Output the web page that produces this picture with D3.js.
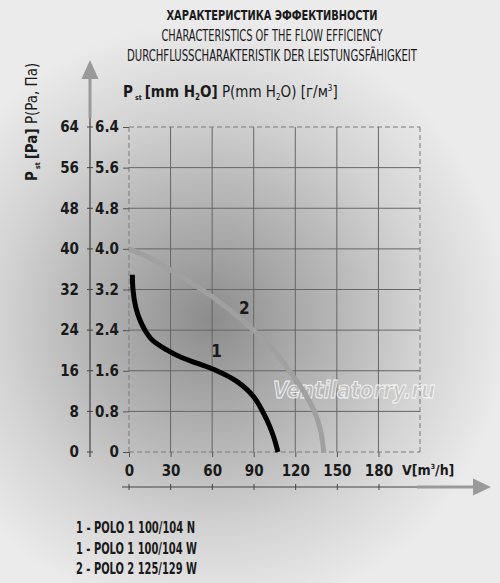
<!DOCTYPE html>
<html>
<head>
<meta charset="utf-8">
<script src="https://cdn.jsdelivr.net/npm/d3@7"></script>
<style>
  html, body { margin: 0; padding: 0; background: #ececec; }
  svg { display: block; }
  text { font-family: "DejaVu Sans Condensed", "DejaVu Sans", sans-serif; font-stretch: condensed; fill: #1a1a1a; }
</style>
</head>
<body>
<div id="root"></div>
<script>
// values: V in m3/h, P in mm H2O
const xTicks = [0, 30, 60, 90, 120, 150, 180];
const yTicks = [0, 0.8, 1.6, 2.4, 3.2, 4.0, 4.8, 5.6, 6.4];
const yTickLabels = ['0', '0.8', '1.6', '2.4', '3.2', '4.0', '4.8', '5.6', '6.4'];
const paTickLabels = ['0', '8', '16', '24', '32', '40', '48', '56', '64'];

// curve 1 - POLO 1
const flow1 = [2.4, 2.9, 4.8, 7.9, 11.5, 16.6, 27.2, 38, 48.9, 63.3, 77.8, 89.9, 99.5, 104, 107.5];
const press1 = [3.49, 3.19, 2.86, 2.6, 2.4, 2.21, 2.01, 1.86, 1.75, 1.6, 1.39, 1.09, 0.63, 0.33, 0];

// curve 2 - POLO 2
const flow2 = [0, 15, 29.6, 45, 56.2, 75, 89.9, 105, 118.8, 127, 133.2, 138, 140.6];
const press2 = [4.0, 3.82, 3.59, 3.33, 3.13, 2.75, 2.4, 1.98, 1.48, 1.15, 0.83, 0.45, 0];

const legendLines = ['1 - POLO 1 100/104 N', '1 - POLO 1 100/104 W', '2 - POLO 2 125/129 W'];

const width = 500;
const height = 583;

const svg = d3.select('#root')
  .append('svg')
  .attr('width', width)
  .attr('height', height);

// background: grey radial glow
const grad = svg.append('defs')
  .append('radialGradient')
  .attr('id', 'bg')
  .attr('gradientUnits', 'userSpaceOnUse')
  .attr('cx', 210)
  .attr('cy', 320)
  .attr('r', 300);
grad.append('stop').attr('offset', '0').attr('stop-color', '#8c8c8c');
grad.append('stop').attr('offset', '0.25').attr('stop-color', '#a6a6a6');
grad.append('stop').attr('offset', '0.45').attr('stop-color', '#b9b9b9');
grad.append('stop').attr('offset', '0.7').attr('stop-color', '#d3d3d3');
grad.append('stop').attr('offset', '1').attr('stop-color', '#ebebeb');

svg.append('rect')
  .attr('width', width)
  .attr('height', height)
  .attr('fill', 'url(#bg)');

const xScale = d3.scaleLinear().domain([0, 210]).range([129, 420]);
const yScale = d3.scaleLinear().domain([0, 6.4]).range([452, 127]);

// titles
const titles = [
  { t: 'ХАРАКТЕРИСТИКА ЭФФЕКТИВНОСТИ', y: 20, w: 211, bold: true, size: 14 },
  { t: 'CHARACTERISTICS OF THE FLOW EFFICIENCY', y: 41, w: 221, bold: false, size: 15 },
  { t: 'DURCHFLUSSCHARAKTERISTIK DER LEISTUNGSFÄHIGKEIT', y: 61, w: 290, bold: false, size: 15 },
];
svg.selectAll('text.title')
  .data(titles)
  .enter()
  .append('text')
  .attr('class', 'title')
  .attr('x', 272)
  .attr('y', d => d.y)
  .attr('text-anchor', 'middle')
  .attr('font-size', d => d.size)
  .attr('font-weight', d => (d.bold ? 'bold' : 'normal'))
  .attr('textLength', d => d.w)
  .attr('lengthAdjust', 'spacingAndGlyphs')
  .text(d => d.t);

// grid
const grid = svg.append('g');
grid.selectAll('line.v')
  .data(xTicks.concat([210]))
  .enter()
  .append('line')
  .attr('x1', d => xScale(d))
  .attr('x2', d => xScale(d))
  .attr('y1', yScale(6.4))
  .attr('y2', yScale(0))
  .attr('stroke', d => (d === 0 || d === 210 ? '#7a7a7a' : '#666'))
  .attr('stroke-width', 1)
  .attr('stroke-dasharray', d => (d === 0 || d === 210 ? '5,3' : null));

grid.selectAll('line.h')
  .data(yTicks)
  .enter()
  .append('line')
  .attr('x1', xScale(0))
  .attr('x2', xScale(210))
  .attr('y1', d => yScale(d))
  .attr('y2', d => yScale(d))
  .attr('stroke', d => (d === 0 || d === 6.4 ? '#7a7a7a' : '#666'))
  .attr('stroke-width', 1)
  .attr('stroke-dasharray', d => (d === 0 || d === 6.4 ? '5,3' : null));

// inner axes (mm H2O and m3/h)
const yAxis = d3.axisLeft(yScale)
  .tickValues(yTicks)
  .tickFormat((d, i) => yTickLabels[i])
  .tickSize(6)
  .tickPadding(4);
const gy = svg.append('g').attr('transform', `translate(${xScale(0)},0)`).call(yAxis);
gy.select('.domain').remove();

const xAxis = d3.axisBottom(xScale)
  .tickValues(xTicks)
  .tickSize(5)
  .tickPadding(8);
const gx = svg.append('g').attr('transform', `translate(0,${yScale(0)})`).call(xAxis);
gx.select('.domain').remove();

[gx, gy].forEach(g => {
  g.selectAll('line').attr('stroke', '#555');
  g.selectAll('text')
    .attr('font-size', 15)
    .attr('font-weight', 'bold')
    .attr('fill', '#1a1a1a')
    .attr('font-family', '"DejaVu Sans Condensed", "DejaVu Sans", sans-serif');
});

// outer Pa axis with arrow
const paAxis = svg.append('g');
paAxis.append('line')
  .attr('x1', 90).attr('x2', 90)
  .attr('y1', yScale(0) + 5).attr('y2', 117)
  .attr('stroke', '#444').attr('stroke-width', 1.2);
paAxis.append('line')
  .attr('x1', 90).attr('x2', 90)
  .attr('y1', 118).attr('y2', 78)
  .attr('stroke', '#9a9a9a').attr('stroke-width', 3);
paAxis.append('path')
  .attr('d', 'M81.5,79 L90,60 L98.5,79 Z')
  .attr('fill', '#9a9a9a');
paAxis.selectAll('line.tk')
  .data(yTicks)
  .enter()
  .append('line')
  .attr('x1', 87).attr('x2', 93)
  .attr('y1', d => yScale(d)).attr('y2', d => yScale(d))
  .attr('stroke', '#444');
paAxis.selectAll('text')
  .data(yTicks)
  .enter()
  .append('text')
  .attr('x', 79)
  .attr('y', d => yScale(d))
  .attr('dy', '0.35em')
  .attr('text-anchor', 'end')
  .attr('font-size', 15)
  .attr('font-weight', 'bold')
  .text((d, i) => paTickLabels[i]);

// outer flow axis with arrow
const xOuter = d3.scaleLinear().domain([0, 180]).range([129, 379]);
const flowAxis = svg.append('g');
flowAxis.append('line')
  .attr('x1', 122).attr('x2', 418)
  .attr('y1', 487).attr('y2', 487)
  .attr('stroke', '#444').attr('stroke-width', 1.2);
flowAxis.append('line')
  .attr('x1', 417).attr('x2', 474)
  .attr('y1', 487).attr('y2', 487)
  .attr('stroke', '#9a9a9a').attr('stroke-width', 3);
flowAxis.append('path')
  .attr('d', 'M473,478.5 L491,487 L473,495.5 Z')
  .attr('fill', '#9a9a9a');
flowAxis.selectAll('line.tk')
  .data(xTicks)
  .enter()
  .append('line')
  .attr('x1', d => xOuter(d)).attr('x2', d => xOuter(d))
  .attr('y1', 484).attr('y2', 490)
  .attr('stroke', '#444');

// axis titles
const yTitle = svg.append('text')
  .attr('transform', 'translate(37,181) rotate(-90)')
  .attr('font-size', 15);
yTitle.append('tspan').attr('font-weight', 'bold').text('P');
yTitle.append('tspan').attr('font-weight', 'bold').attr('font-size', 7).attr('dx', 2).attr('dy', 3).text('st');
yTitle.append('tspan').attr('font-weight', 'bold').attr('dx', 3).attr('dy', -3).text('[Pa]');
yTitle.append('tspan').text(' P(Pa, Па)');

const topTitle = svg.append('text')
  .attr('x', 123)
  .attr('y', 97)
  .attr('font-size', 15);
topTitle.append('tspan').attr('font-weight', 'bold').text('P');
topTitle.append('tspan').attr('font-weight', 'bold').attr('font-size', 7).attr('dx', 2).attr('dy', 3).text('st');
topTitle.append('tspan').attr('font-weight', 'bold').attr('dx', 3).attr('dy', -3).text('[mm H');
topTitle.append('tspan').attr('font-weight', 'bold').attr('font-size', 8).attr('dy', 3).text('2');
topTitle.append('tspan').attr('font-weight', 'bold').attr('dy', -3).text('O]');
topTitle.append('tspan').text(' P(mm H');
topTitle.append('tspan').attr('font-size', 8).attr('dy', 3).text('2');
topTitle.append('tspan').attr('dy', -3).text('O) [г/м');
topTitle.append('tspan').attr('font-size', 8).attr('dy', -6).text('3');
topTitle.append('tspan').attr('dy', 6).text(']');

const xTitle = svg.append('text')
  .attr('x', 402)
  .attr('y', 475)
  .attr('font-size', 14)
  .attr('font-weight', 'bold');
xTitle.append('tspan').text('V[m');
xTitle.append('tspan').attr('font-size', 7).attr('dy', -6).text('3');
xTitle.append('tspan').attr('dy', 6).text('/h]');

// watermark
svg.append('text')
  .attr('x', 273)
  .attr('y', 398)
  .attr('font-size', 23)
  .attr('font-style', 'italic')
  .attr('font-weight', 'bold')
  .attr('textLength', 162)
  .attr('lengthAdjust', 'spacingAndGlyphs')
  .style('fill', 'rgba(190,190,190,0.6)')
  .style('stroke', 'rgba(255,255,255,0.85)')
  .style('stroke-width', 0.9)
  .text('Ventilatorry.ru');

// curves
const line = d3.line()
  .x(d => xScale(d[0]))
  .y(d => yScale(d[1]))
  .curve(d3.curveCatmullRom.alpha(0.5));

svg.append('path')
  .attr('d', line(d3.zip(flow2, press2)))
  .attr('fill', 'none')
  .attr('stroke', '#a0a0a0')
  .attr('stroke-width', 5);

svg.append('path')
  .attr('d', line(d3.zip(flow1, press1)))
  .attr('fill', 'none')
  .attr('stroke', '#000')
  .attr('stroke-width', 5);

const curveLabels = [
  { t: '1', v: 63.2, p: 1.99 },
  { t: '2', v: 83.3, p: 2.84 },
];
svg.selectAll('text.cl')
  .data(curveLabels)
  .enter()
  .append('text')
  .attr('class', 'cl')
  .attr('x', d => xScale(d.v))
  .attr('y', d => yScale(d.p))
  .attr('dy', '0.35em')
  .attr('text-anchor', 'middle')
  .attr('font-size', 17)
  .attr('font-weight', 'bold')
  .text(d => d.t);

// legend
svg.selectAll('text.legend')
  .data(legendLines)
  .enter()
  .append('text')
  .attr('class', 'legend')
  .attr('x', 76)
  .attr('y', (d, i) => 533 + i * 20.5)
  .attr('font-size', 15)
  .attr('font-weight', 'bold')
  .attr('textLength', (d, i) => (i === 0 ? 119 : 121))
  .attr('lengthAdjust', 'spacingAndGlyphs')
  .text(d => d);
</script>
</body>
</html>
